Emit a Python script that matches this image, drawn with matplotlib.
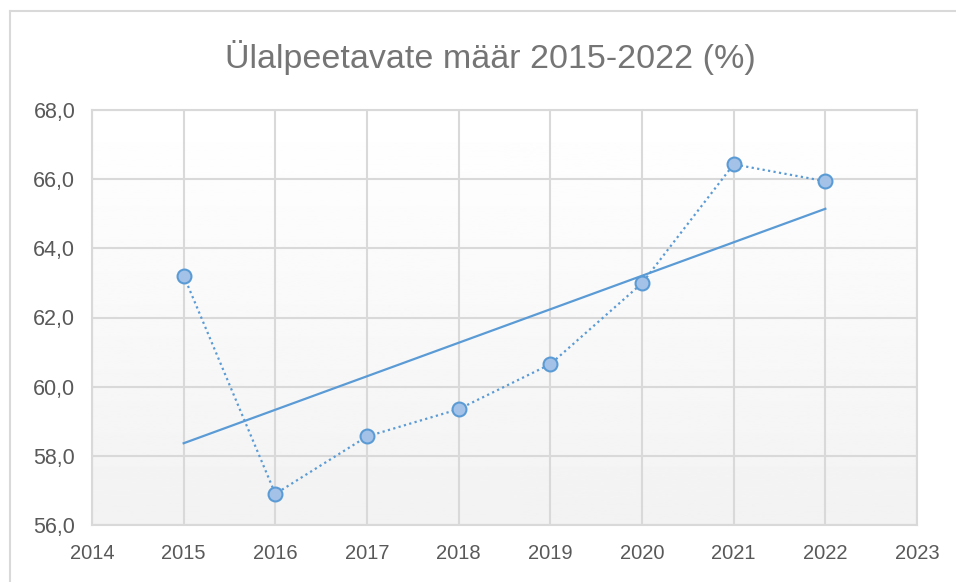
import numpy as np
import matplotlib
matplotlib.use("Agg")
import matplotlib.pyplot as plt
from matplotlib.lines import Line2D
from matplotlib.ticker import FuncFormatter

# data
years = [2015, 2016, 2017, 2018, 2019, 2020, 2021, 2022]
rate = [63.21, 56.90, 58.56, 59.35, 60.65, 62.99, 66.43, 65.94]
x_ticks = [2014, 2015, 2016, 2017, 2018, 2019, 2020, 2021, 2022, 2023]
y_ticks = [56, 58, 60, 62, 64, 66, 68]
title = "Ülalpeetavate määr 2015-2022 (%)"

blue = "#5B9BD5"
grid = "#D9D9D9"
text_col = "#595959"

plt.rcParams["font.family"] = ["Liberation Sans", "DejaVu Sans"]

fig = plt.figure(figsize=(9.56, 5.82), dpi=100)
ax = fig.add_axes([92 / 956, 57 / 582, 825 / 956, 415 / 582])

# soft vertical gradient behind the plot area
grad = np.linspace(1.0, 0.95, 256).reshape(-1, 1)
ax.imshow(grad, extent=[0, 1, 0, 1], transform=ax.transAxes, cmap="gray",
          vmin=0, vmax=1, aspect="auto", zorder=0)

ax.set_xlim(x_ticks[0], x_ticks[-1])
ax.set_ylim(y_ticks[0], y_ticks[-1])
ax.set_xticks(x_ticks)
ax.set_yticks(y_ticks)
ax.yaxis.set_major_formatter(FuncFormatter(lambda v, p: f"{v:.1f}".replace(".", ",")))
ax.grid(True, color=grid, linewidth=1.5, zorder=1)
ax.tick_params(length=0, labelsize=14.5, colors=text_col)
ax.tick_params(axis="x", pad=14)
ax.tick_params(axis="y", pad=12, labelsize=15.5)
for s in ax.spines.values():
    s.set_color(grid)
    s.set_linewidth(1.5)

# linear trend line
k, b = np.polyfit(years, rate, 1)
yrs = np.array([years[0], years[-1]])
ax.plot(yrs, k * yrs + b, color=blue, linewidth=1.6, zorder=3)

ax.plot(years, rate, linestyle=(0, (1, 1.5)), color=blue, linewidth=1.6,
        marker="o", markersize=10, markerfacecolor="#A4C2E8",
        markeredgecolor=blue, markeredgewidth=1.5, zorder=4)

fig.text(0.5126, 0.902, title, ha="center", va="center", fontsize=24.5, color="#757575")

# outer chart frame
fig.add_artist(Line2D([10 / 956, 10 / 956], [0, 1 - 11 / 582], transform=fig.transFigure,
                      color=grid, linewidth=1.5))
fig.add_artist(Line2D([10 / 956, 1], [1 - 11 / 582, 1 - 11 / 582], transform=fig.transFigure,
                      color=grid, linewidth=1.5))

fig.savefig("out.png", dpi=100)
